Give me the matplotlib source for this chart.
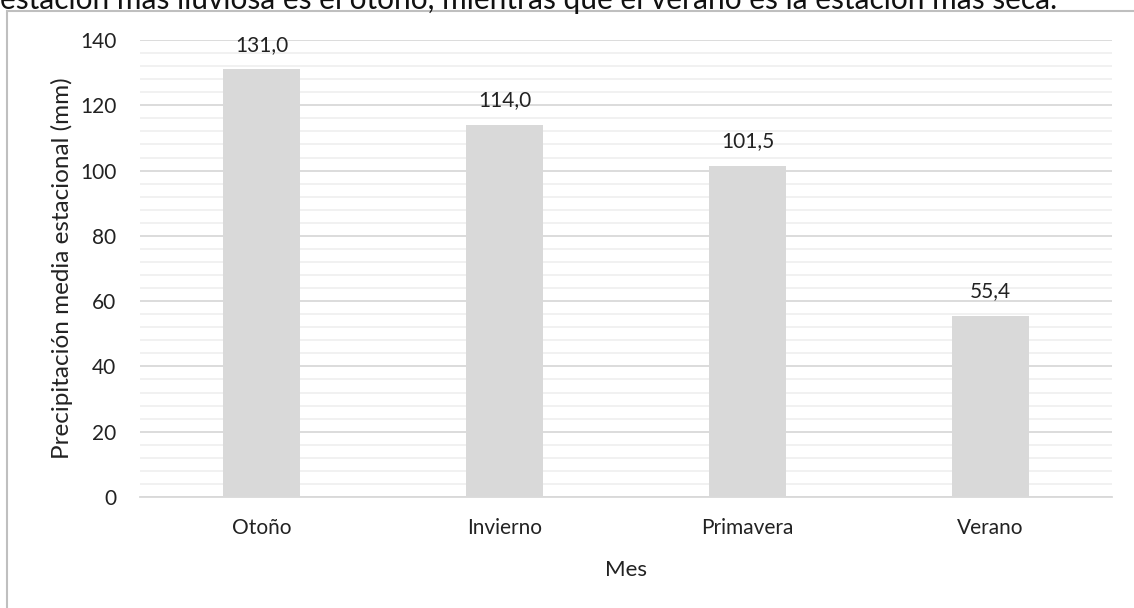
import matplotlib.pyplot as plt
import numpy as np
from matplotlib.patches import Rectangle

# datos
estaciones = ["Otoño", "Invierno", "Primavera", "Verano"]
precipitacion = [131.0, 114.0, 101.5, 55.4]
etiquetas = ["131,0", "114,0", "101,5", "55,4"]
texto_superior = "estación más lluviosa es el otoño, mientras que el verano es la estación más seca."

plt.rcParams['font.family'] = ['Lato', 'DejaVu Sans']

fig = plt.figure(figsize=(11.34, 6.08), dpi=100)
W, H = 1134, 608

# marco del gráfico
fig.patches.append(Rectangle((7 / W, -0.01), 1.02, (608 - 11) / H + 0.01, transform=fig.transFigure,
                             fill=False, edgecolor="#bfbfbf", linewidth=1.5))
# línea de texto del documento, recortada arriba como en la captura
fig.text(0.0, 1 - 9 / H, texto_superior, fontsize=21.5, color="#111111", ha="left", va="baseline")

ax = fig.add_axes([140 / W, 1 - 497 / H, (1112 - 140) / W, (497 - 40) / H])
x = np.arange(len(estaciones))
ax.bar(x, precipitacion, width=0.315, color="#d9d9d9", zorder=3)
for xi, v, t in zip(x, precipitacion, etiquetas):
    ax.text(xi, v + 4.5, t, ha="center", va="bottom", fontsize=15, color="#222222")

ax.set_xlim(-0.5, len(estaciones) - 0.5)
ax.set_ylim(0, 140)
ax.set_yticks(np.arange(0, 141, 20))
ax.set_yticks(np.arange(0, 141, 4), minor=True)
ax.grid(axis="y", which="major", color="#d9d9d9", linewidth=1.3, zorder=0)
ax.grid(axis="y", which="minor", color="#f0f0f0", linewidth=1.3, zorder=0)
ax.set_xticks(x)
ax.set_xticklabels(estaciones)
ax.tick_params(axis="both", which="both", length=0, labelsize=15, colors="#222222")
ax.tick_params(axis="x", pad=15)
ax.tick_params(axis="y", pad=17)
for s in ["top", "right", "left"]:
    ax.spines[s].set_visible(False)
ax.spines["bottom"].set_color("#d9d9d9")
ax.spines["bottom"].set_linewidth(1.3)

ax.set_xlabel("Mes", fontsize=16, color="#222222", labelpad=16)
ax.set_ylabel("Precipitación media estacional (mm)", fontsize=17.5, color="#222222", labelpad=5)

plt.savefig("out.png", dpi=100)
